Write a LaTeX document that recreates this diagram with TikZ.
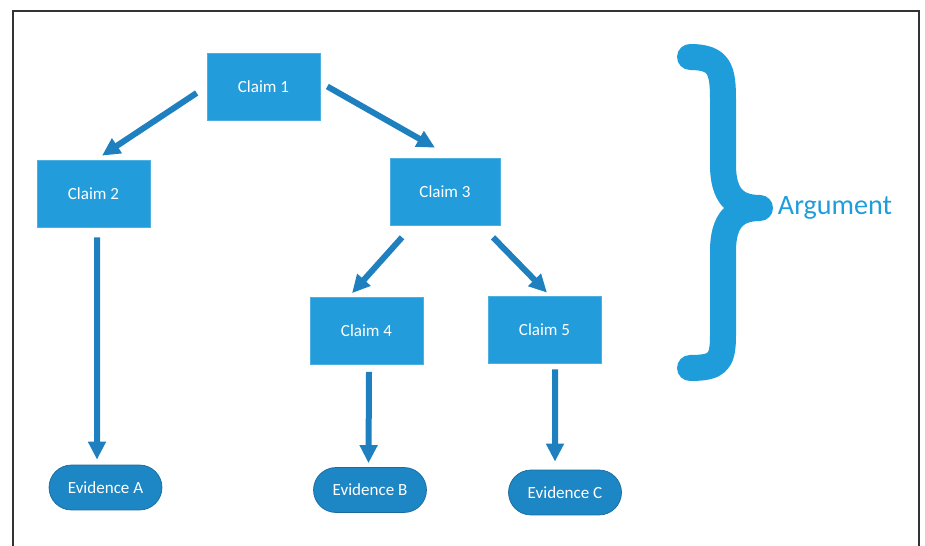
\documentclass[tikz,border=0pt]{standalone}
\usepackage{fontspec}
\setmainfont{Carlito}
\usetikzlibrary{arrows.meta}

\definecolor{claimblue}{HTML}{229CDA}
\definecolor{evidblue}{HTML}{1D86C4}
\definecolor{evidline}{HTML}{1A6A9E}
\definecolor{arrblue}{HTML}{1F80C0}
\definecolor{braceblue}{HTML}{1F9DDB}

\tikzset{
  claim/.style={draw=claimblue!80!white,fill=claimblue,text=white,minimum width=2.26cm,minimum height=1.34cm,font=\fontsize{9.7}{12}\selectfont},
  evid/.style={draw=evidline,fill=evidblue,text=white,rounded corners=0.45cm,minimum width=2.26cm,minimum height=0.9cm,font=\fontsize{9.7}{12}\selectfont},
  arr/.style={arrblue,line width=0.12cm,-{Triangle[width=0.34cm,length=0.36cm]}}
}

\begin{document}
\begin{tikzpicture}[x=0.02cm,y=-0.02cm]
\useasboundingbox (0,0) rectangle (925,546);

% -- frame
\draw[black!80,line width=0.8pt] (13,546) -- (13,11) -- (919,11) -- (919,546);

% -- level 1
\node[claim] (c1) at (263.5,86.5) {Claim 1};

% -- level 2
\node[claim] (c2) at (93.5,193.5) {Claim 2};
\node[claim,minimum width=2.2cm] (c3) at (445,191.5) {Claim 3};

% -- level 3
\node[claim] (c4) at (366.5,331) {Claim 4};
\node[claim] (c5) at (544.5,329.5) {Claim 5};

% -- evidence
\node[evid] (evA) at (105.5,487.5) {Evidence A};
\node[evid] (evB) at (370,490) {Evidence B};
\node[evid] (evC) at (565,492.5) {Evidence C};

% -- draw arrows
\draw[arr] ([xshift=-0.2cm,yshift=-0.13cm]c1.west) -- ([xshift=0.17cm,yshift=0.08cm]c2.north);
\draw[arr] ([xshift=0.14cm]c1.east) -- ([xshift=-0.2cm,yshift=0.2cm]c3.north);

\draw[arr] ([xshift=0.07cm,yshift=-0.2cm]c2.south) -- ([xshift=-0.17cm,yshift=0.1cm]evA.north);

\draw[arr] ([xshift=-0.86cm,yshift=-0.24cm]c3.south) -- ([xshift=-0.29cm,yshift=0.08cm]c4.north);
\draw[arr] ([xshift=0.96cm,yshift=-0.24cm]c3.south) -- ([xshift=0.05cm,yshift=0.06cm]c5.north);

\draw[arr] ([xshift=0.05cm,yshift=-0.14cm]c4.south) -- ([xshift=-0.03cm,yshift=0.08cm]evB.north);
\draw[arr] ([xshift=0.21cm,yshift=-0.12cm]c5.south) -- ([xshift=-0.2cm,yshift=0.16cm]evC.north);

% -- brace
\draw[braceblue,line width=0.52cm,line cap=round,line join=round]
  (690,57) .. controls (720,57) and (723,70) .. (723,100) -- (723,165)
  .. controls (723,195) and (735,208) .. (760,208)
  .. controls (735,208) and (723,221) .. (723,251) -- (723,335)
  .. controls (723,362) and (718,368) .. (690,368);
\node[text=braceblue,font=\fontsize{16}{19}\selectfont] (arg) at (835,208) {Argument};
\end{tikzpicture}
\end{document}
